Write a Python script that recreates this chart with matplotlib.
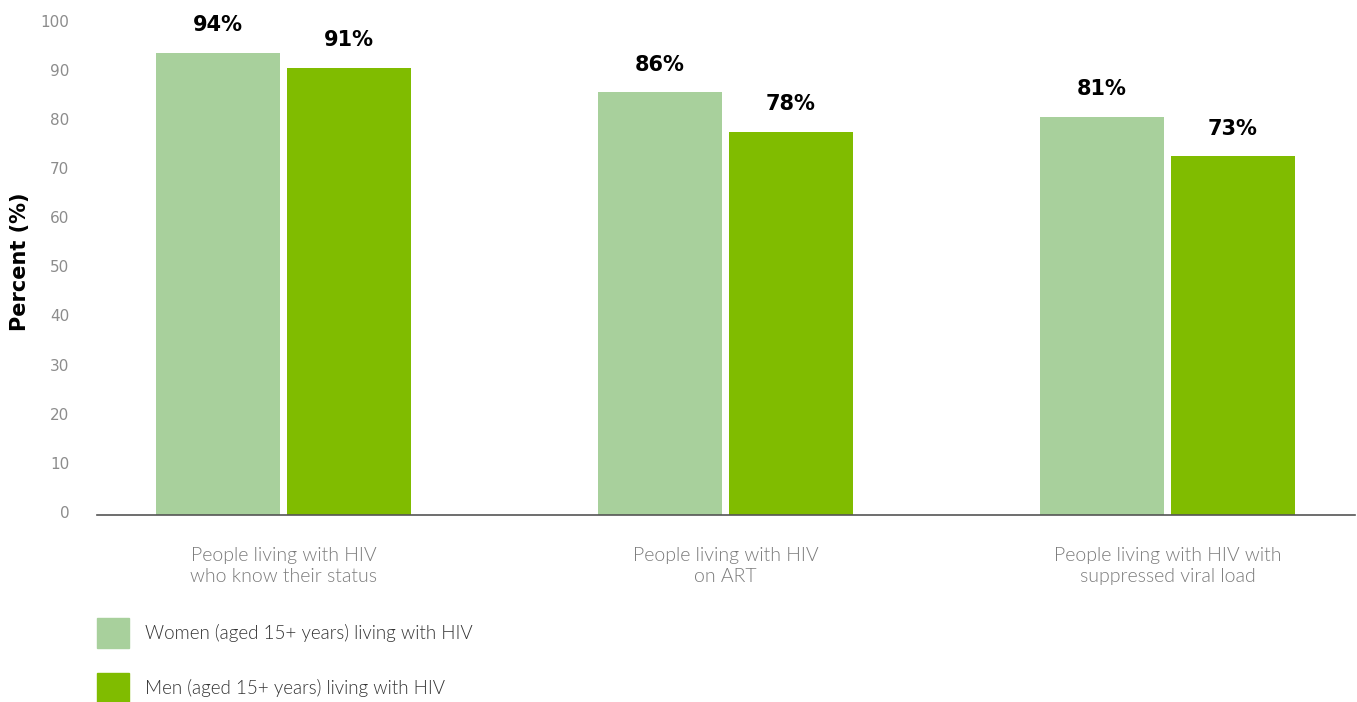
import numpy as np
import matplotlib
matplotlib.use('Agg')
import matplotlib.pyplot as plt
import matplotlib.transforms as mtransforms
from matplotlib.patches import Patch

# data
categories = ['People living with HIV\nwho know their status',
              'People living with HIV\non ART',
              'People living with HIV with\nsuppressed viral load']
women = [94, 86, 81]
men = [91, 78, 73]
series_names = ['Women (aged 15+ years) living with HIV',
                'Men (aged 15+ years) living with HIV']
yticks = [0, 10, 20, 30, 40, 50, 60, 70, 80, 90, 100]

c_women = '#a8d09c'
c_men = '#80bc00'
light = ['Lato', 'DejaVu Sans']

fig = plt.figure(figsize=(13.57, 7.02), dpi=100)
ax = fig.add_axes([0.0715, 0.2664, 0.927, 0.7001])

x = np.arange(len(categories))
w = 0.2805
off = 0.148
ax.bar(x - off, women, w, color=c_women)
ax.bar(x + off, men, w, color=c_men)

for xi, v in zip(x - off, women):
    ax.text(xi, v + 3.6, '%d%%' % v, ha='center', va='bottom', fontsize=15, fontweight='bold')
for xi, v in zip(x + off, men):
    ax.text(xi, v + 3.6, '%d%%' % v, ha='center', va='bottom', fontsize=15, fontweight='bold')

ax.set_xlim(-0.422, 2.424)
ax.set_ylim(0, 100)
ax.set_yticks(yticks)
ax.set_yticklabels([str(t) for t in yticks], color='#8c8c8c', fontsize=11)
ax.tick_params(axis='y', length=0, pad=20)
# nudge y tick labels up a little like the original
shift = mtransforms.ScaledTranslation(0, 3 / 100, fig.dpi_scale_trans)
for lab in ax.get_yticklabels():
    lab.set_transform(lab.get_transform() + shift)
ax.set_xticks(x)
ax.set_xticklabels(categories, fontsize=14, color='#7a7a7a', family=light,
                   fontweight=300, linespacing=1.3)
ax.tick_params(axis='x', length=0, pad=23)

for s in ['top', 'right', 'left']:
    ax.spines[s].set_visible(False)
ax.spines['bottom'].set_color('#555555')
ax.spines['bottom'].set_linewidth(1.2)

fig.text(0.0147, 0.627, 'Percent (%)', rotation=90, ha='center', va='center',
         fontsize=15, fontweight='bold')

handles = [Patch(color=c_women), Patch(color=c_men)]
leg = fig.legend(handles, series_names, loc='upper left', bbox_to_anchor=(0.0715, 0.1197),
                 frameon=False, borderpad=0, borderaxespad=0,
                 handlelength=1.7, handleheight=2.1, handletextpad=0.85, labelspacing=1.32,
                 prop={'family': light, 'size': 13.5, 'weight': 300})
for t in leg.get_texts():
    t.set_color('#333333')

fig.savefig('out.png', dpi=100)
